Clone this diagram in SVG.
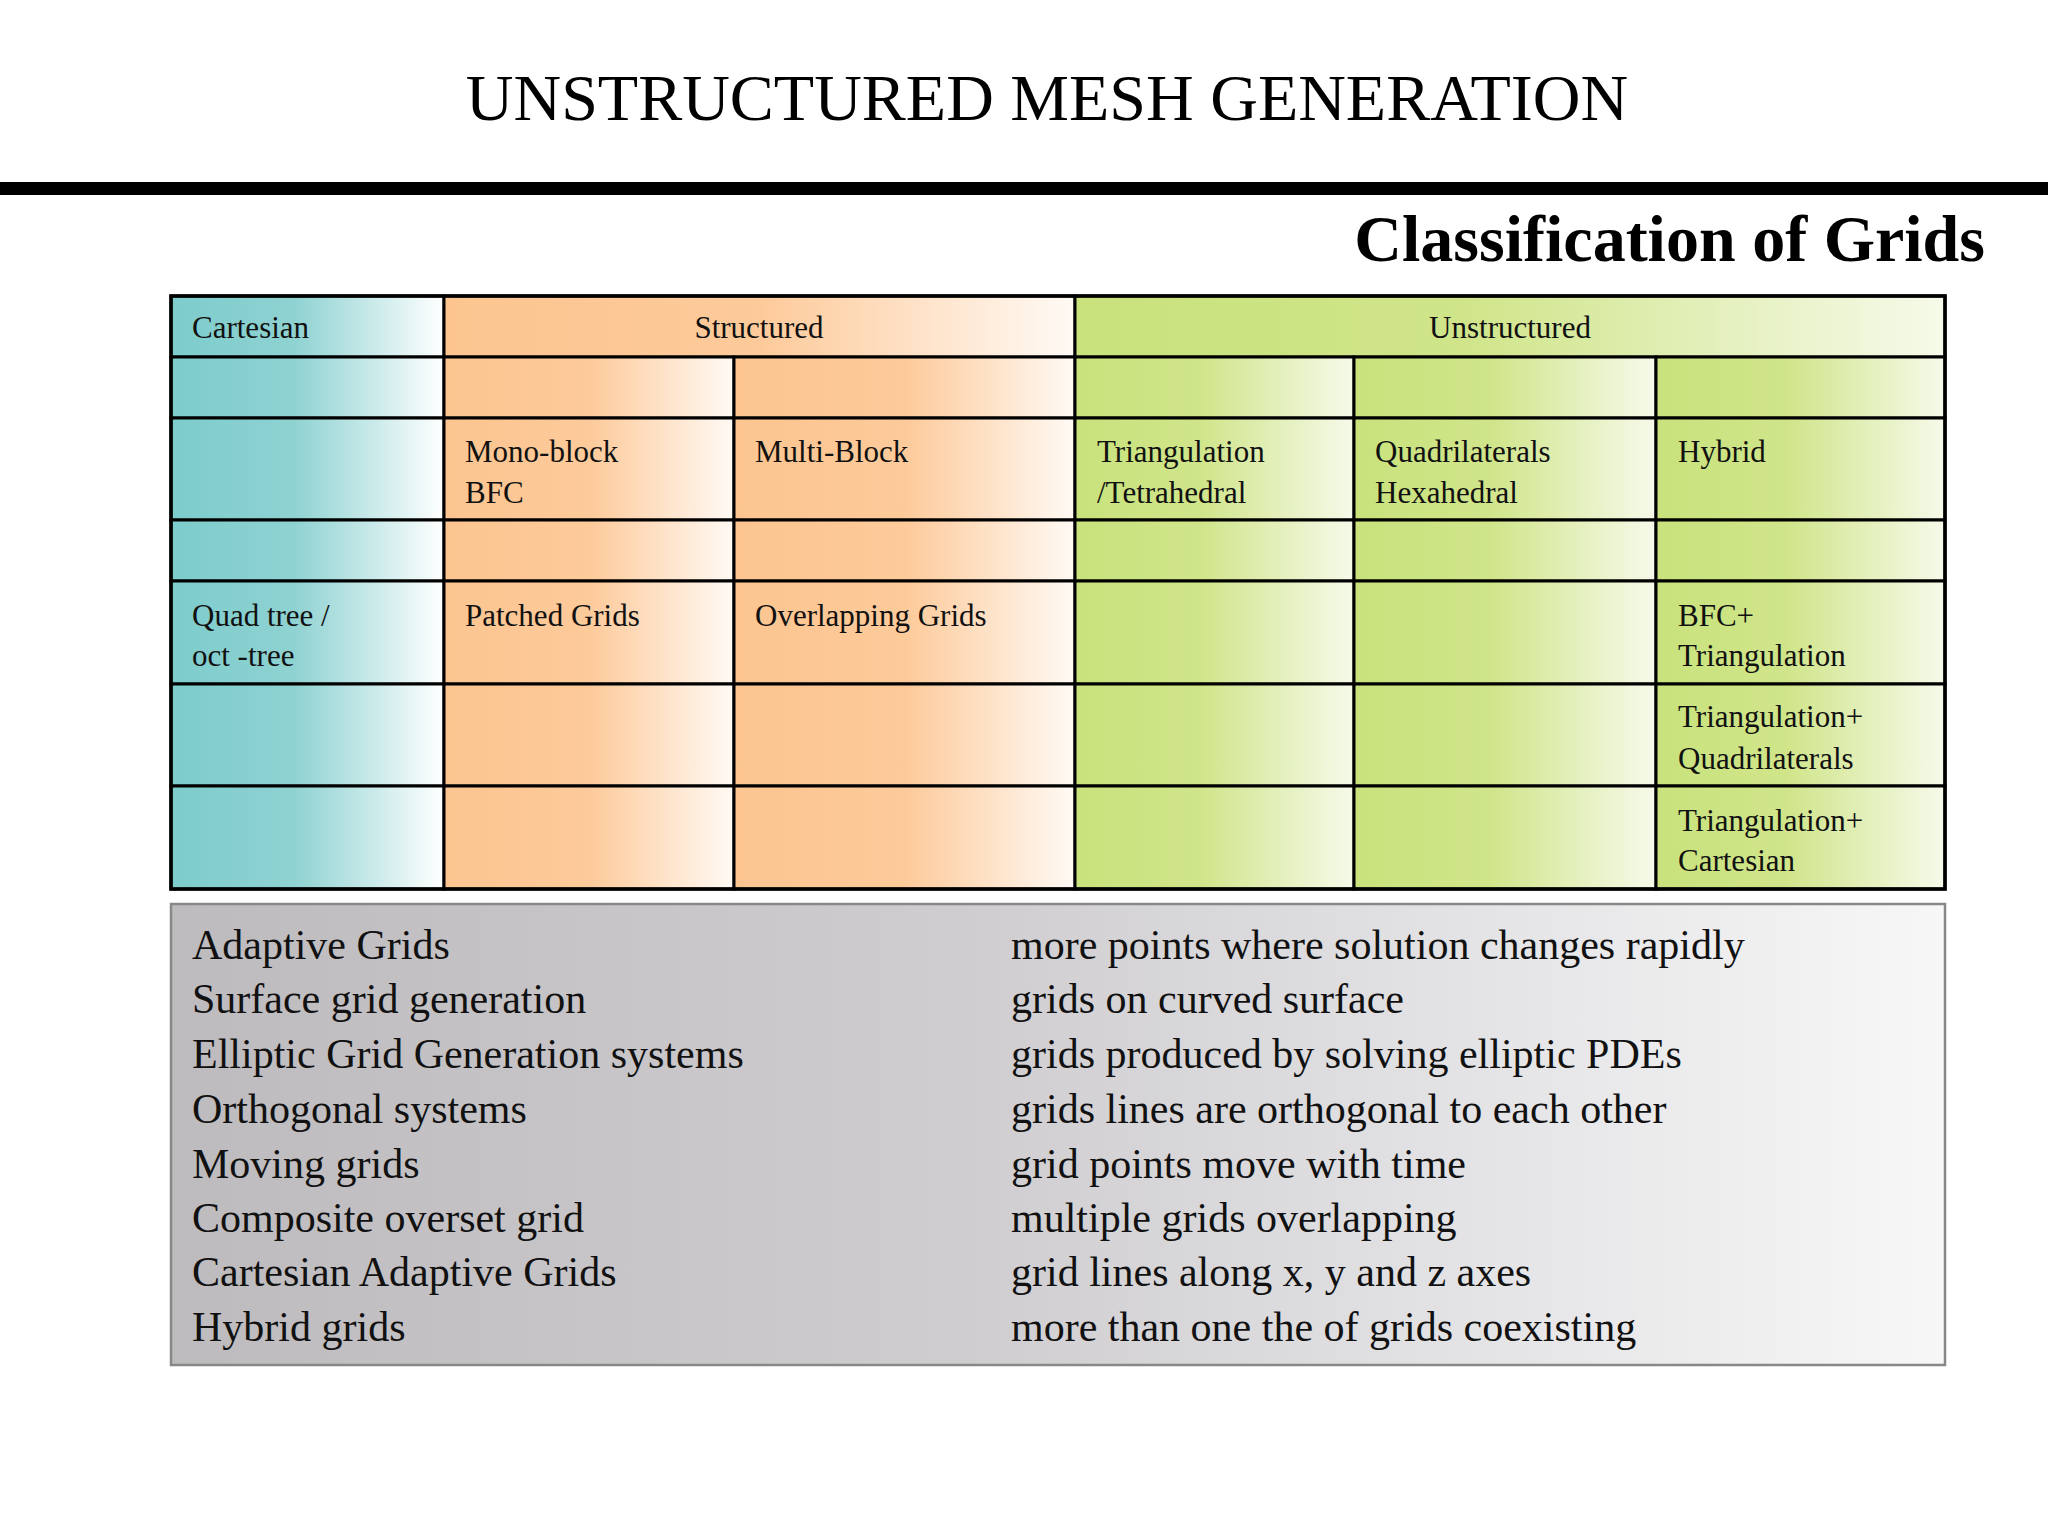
<svg xmlns="http://www.w3.org/2000/svg" width="2048" height="1536" viewBox="0 0 2048 1536">
<defs>
<linearGradient id="gc" x1="0" y1="0" x2="1" y2="0"><stop offset="0" stop-color="#7dcccc"/><stop offset="0.45" stop-color="#8fd2d2"/><stop offset="1" stop-color="#ffffff"/></linearGradient>
<linearGradient id="gs" x1="0" y1="0" x2="1" y2="0"><stop offset="0" stop-color="#fcc590"/><stop offset="0.5" stop-color="#fdca9a"/><stop offset="1" stop-color="#fffaf5"/></linearGradient>
<linearGradient id="gu" x1="0" y1="0" x2="1" y2="0"><stop offset="0" stop-color="#c9e27c"/><stop offset="0.45" stop-color="#d0e58a"/><stop offset="1" stop-color="#f6faea"/></linearGradient>
<linearGradient id="gb" x1="0" y1="0" x2="1" y2="0"><stop offset="0" stop-color="#bdbbbe"/><stop offset="0.45" stop-color="#cfcdd0"/><stop offset="1" stop-color="#f7f7f8"/></linearGradient>
<style>
.t{font-family:"Liberation Serif",serif;font-size:31px;fill:#111}
.b{font-family:"Liberation Serif",serif;font-size:42px;fill:#111}
.c{stroke:#000;stroke-width:3}
</style>
</defs>
<rect width="2048" height="1536" fill="#fff"/>
<text x="1047" y="120" text-anchor="middle" font-family="Liberation Serif,serif" font-size="66">UNSTRUCTURED MESH GENERATION</text>
<rect x="0" y="182" width="2048" height="13" fill="#000"/>
<text x="1985" y="261" text-anchor="end" font-family="Liberation Serif,serif" font-size="66" font-weight="bold">Classification of Grids</text>
<g id="table">
<rect class="c" x="171" y="296" width="273" height="61" fill="url(#gc)"/>
<rect class="c" x="444" y="296" width="631" height="61" fill="url(#gs)"/>
<rect class="c" x="1075" y="296" width="870" height="61" fill="url(#gu)"/>
<g id="cells">
<!-- rows -->
<g fill="url(#gc)" class="c">
<rect x="171" y="357" width="273" height="61"/><rect x="171" y="418" width="273" height="102"/><rect x="171" y="520" width="273" height="61"/><rect x="171" y="581" width="273" height="103"/><rect x="171" y="684" width="273" height="102"/><rect x="171" y="786" width="273" height="103"/>
</g>
<g fill="url(#gs)" class="c">
<rect x="444" y="357" width="290" height="61"/><rect x="444" y="418" width="290" height="102"/><rect x="444" y="520" width="290" height="61"/><rect x="444" y="581" width="290" height="103"/><rect x="444" y="684" width="290" height="102"/><rect x="444" y="786" width="290" height="103"/>
<rect x="734" y="357" width="341" height="61"/><rect x="734" y="418" width="341" height="102"/><rect x="734" y="520" width="341" height="61"/><rect x="734" y="581" width="341" height="103"/><rect x="734" y="684" width="341" height="102"/><rect x="734" y="786" width="341" height="103"/>
</g>
<g fill="url(#gu)" class="c">
<rect x="1075" y="357" width="279" height="61"/><rect x="1075" y="418" width="279" height="102"/><rect x="1075" y="520" width="279" height="61"/><rect x="1075" y="581" width="279" height="103"/><rect x="1075" y="684" width="279" height="102"/><rect x="1075" y="786" width="279" height="103"/>
<rect x="1354" y="357" width="302" height="61"/><rect x="1354" y="418" width="302" height="102"/><rect x="1354" y="520" width="302" height="61"/><rect x="1354" y="581" width="302" height="103"/><rect x="1354" y="684" width="302" height="102"/><rect x="1354" y="786" width="302" height="103"/>
<rect x="1656" y="357" width="289" height="61"/><rect x="1656" y="418" width="289" height="102"/><rect x="1656" y="520" width="289" height="61"/><rect x="1656" y="581" width="289" height="103"/><rect x="1656" y="684" width="289" height="102"/><rect x="1656" y="786" width="289" height="103"/>
</g>
</g>
<rect x="171" y="296" width="1774" height="593" fill="none" stroke="#000" stroke-width="3.5"/>
<g id="labels" class="t">
<text x="192" y="338">Cartesian</text>
<text x="759" y="338" text-anchor="middle">Structured</text>
<text x="1510" y="338" text-anchor="middle">Unstructured</text>
<text x="465" y="462">Mono-block</text><text x="465" y="503">BFC</text>
<text x="755" y="462">Multi-Block</text>
<text x="1097" y="462">Triangulation</text><text x="1097" y="503">/Tetrahedral</text>
<text x="1375" y="462">Quadrilaterals</text><text x="1375" y="503">Hexahedral</text>
<text x="1678" y="462">Hybrid</text>
<text x="192" y="626">Quad tree /</text><text x="192" y="666">oct -tree</text>
<text x="465" y="626">Patched Grids</text>
<text x="755" y="626">Overlapping Grids</text>
<text x="1678" y="626">BFC+</text><text x="1678" y="666">Triangulation</text>
<text x="1678" y="727">Triangulation+</text><text x="1678" y="769">Quadrilaterals</text>
<text x="1678" y="831">Triangulation+</text><text x="1678" y="871">Cartesian</text>
</g>
</g>
<g id="legend">
<rect x="171" y="904" width="1774" height="461" fill="url(#gb)" stroke="#888" stroke-width="2.5"/>
<g class="b">
<text x="192" y="959">Adaptive Grids</text><text x="1011" y="959">more points where solution changes rapidly</text>
<text x="192" y="1013">Surface grid generation</text><text x="1011" y="1013">grids on curved surface</text>
<text x="192" y="1068">Elliptic Grid Generation systems</text><text x="1011" y="1068">grids produced by solving elliptic PDEs</text>
<text x="192" y="1123">Orthogonal systems</text><text x="1011" y="1123">grids lines are orthogonal to each other</text>
<text x="192" y="1178">Moving grids</text><text x="1011" y="1178">grid points move with time</text>
<text x="192" y="1232">Composite overset grid</text><text x="1011" y="1232">multiple grids overlapping</text>
<text x="192" y="1286">Cartesian Adaptive Grids</text><text x="1011" y="1286">grid lines along x, y and z axes</text>
<text x="192" y="1341">Hybrid grids</text><text x="1011" y="1341">more than one the of grids coexisting</text>
</g>
</g>
</svg>
